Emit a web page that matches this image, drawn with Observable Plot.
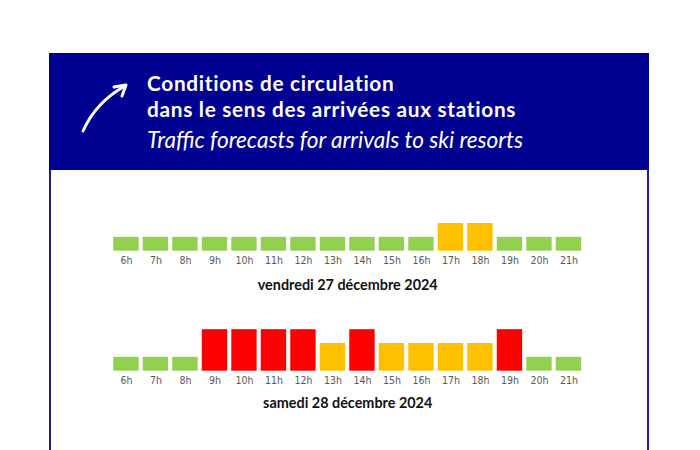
<!DOCTYPE html>
<html><head><meta charset="utf-8">
<script src="https://cdn.jsdelivr.net/npm/d3@7"></script>
<script src="https://cdn.jsdelivr.net/npm/@observablehq/plot@0.6"></script>
<style>
html,body{margin:0;padding:0;background:#fff;}
#page{position:relative;width:700px;height:450px;overflow:hidden;background:#fff;}
#card{position:absolute;left:49px;top:53px;width:596px;height:460px;border:2px solid #1f1f8f;border-top:none;background:#fff;}
#header{position:absolute;left:49px;top:53px;width:600px;height:117px;}
.row{position:absolute;left:0;}
</style>
</head><body>
<div id="page">
  <div id="card"></div>
  <svg id="header" width="600" height="117">
    <rect width="600" height="117" fill="#000091"/>
    <path d="M34,78 Q47,49 76,33" fill="none" stroke="#fff" stroke-width="3" stroke-linecap="round"/>
    <path d="M65,34 L77,32 L73,43" fill="none" stroke="#fff" stroke-width="3" stroke-linecap="round" stroke-linejoin="round"/>
    <text x="98" y="38.3" fill="#fff" font-family="Lato" font-weight="700" font-size="20.8" letter-spacing="0.7">Conditions de circulation</text>
    <text x="98" y="63.5" fill="#fff" font-family="Lato" font-weight="700" font-size="20.8" letter-spacing="0.7">dans le sens des arrivées aux stations</text>
    <text x="98" y="95.3" fill="#fff" font-family="Lato" font-style="italic" font-size="22.6">Traffic forecasts for arrivals to ski resorts</text>
  </svg>
  <div id="row1" class="row" style="top:200px"></div>
  <div id="row2" class="row" style="top:320px"></div>
</div>
<script>
const hours = ["6h","7h","8h","9h","10h","11h","12h","13h","14h","15h","16h","17h","18h","19h","20h","21h"];
const levelsFri = [1,1,1,1,1,1,1,1,1,1,1,2,2,1,1,1];
const levelsSat = [1,1,1,3,3,3,3,2,3,2,2,2,2,3,1,1];
const dayLabels = ["vendredi 27 décembre 2024", "samedi 28 décembre 2024"];
const levelDomain = [1,2,3];
const levelColors = ["#92D050","#FFC000","#FF0000"];

function rowChart(levels, label, labelDy) {
  const data = hours.map((h,i) => ({hour: h, level: levels[i]}));
  return Plot.plot({
    width: 700, height: 100,
    marginLeft: 111.2, marginRight: 116.8, marginTop: 9.2, marginBottom: 49.3,
    style: {fontFamily: "'Liberation Sans Narrow', 'DejaVu Sans Condensed', sans-serif", fontSize: "10.5px", color: "#595959", background: "transparent"},
    x: {domain: hours, type: "band", paddingInner: 0.14, paddingOuter: 0.07, round: false, axis: null, label: null},
    y: {domain: [0,3], axis: null},
    color: {type: "ordinal", domain: levelDomain, range: levelColors},
    marks: [
      Plot.barY(data, {x: "hour", y: "level", fill: "level"}),
      Plot.axisX({tickSize: 0, tickPadding: 5, fontSize: 10.5, label: null}),
      Plot.text([label], {frameAnchor: "bottom", lineAnchor: "middle", dy: labelDy, text: d => d,
        fontWeight: "bold", fontSize: 14.4, fill: "#111", fontFamily: "Lato"})
    ]
  });
}
document.getElementById("row1").appendChild(rowChart(levelsFri, dayLabels[0], 34));
document.getElementById("row2").appendChild(rowChart(levelsSat, dayLabels[1], 32.5));
</script>
</body></html>
